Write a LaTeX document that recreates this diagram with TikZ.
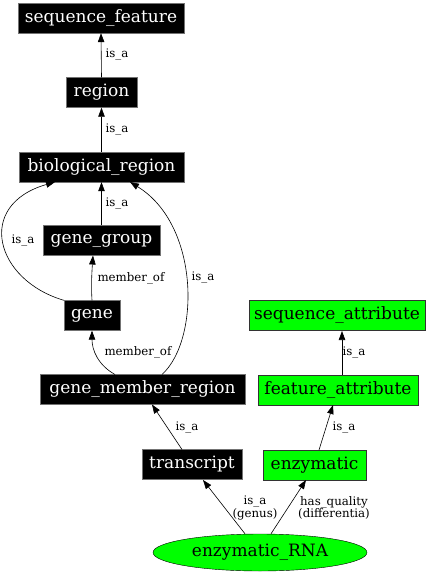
\documentclass[tikz,border=0pt]{standalone}
\usepackage{fontspec}
\setmainfont{DejaVu Serif}
\usetikzlibrary{arrows.meta,shapes.geometric}
\definecolor{termgreen}{HTML}{00FF00}
\begin{document}
\begin{tikzpicture}[
        x=1pt, y=-1pt,
        term/.style={draw=black!55, fill=black, text=white, inner sep=0pt,
            minimum height=30pt, font=\fontsize{17}{19}\selectfont},
        attr/.style={draw=black!80, fill=termgreen, text=black, inner sep=0pt,
            minimum height=30pt, font=\fontsize{17}{19}\selectfont},
        lbl/.style={inner sep=0pt, align=center, font=\fontsize{11.8}{12.5}\selectfont},
        rel/.style={-{Triangle[length=9pt,width=6.5pt]}, black, line width=0.6pt}
    ]
    \useasboundingbox (0,0) rectangle (434,576);

    % terms
    \node[term, minimum width=166pt] (seqfeat) at (101,18) {sequence\_feature};
    \node[term, minimum width=71pt] (region) at (101.5,92.5) {region};
    \node[term, minimum width=165pt] (bioregion) at (101.5,167) {biological\_region};
    \node[term, minimum width=117pt] (genegroup) at (101.5,240.5) {gene\_group};
    \node[term, minimum width=56pt] (gene) at (92,315.5) {gene};
    \node[term, minimum width=205pt] (gmregion) at (142.5,389.5) {gene\_member\_region};
    \node[term, minimum width=100pt] (transcript) at (192,464.5) {transcript};
    \node[attr, minimum width=176pt] (seqattr) at (337,315.5) {sequence\_attribute};
    \node[attr, minimum width=160pt] (featattr) at (338,390) {feature\_attribute};
    \node[attr, minimum width=103pt] (enzymatic) at (314.5,465) {enzymatic};
    \node[ellipse, draw=black, fill=termgreen, inner sep=0pt, minimum width=214pt,
        minimum height=37pt, font=\fontsize{17}{19}\selectfont] (enzRNA) at (260,552.5) {enzymatic\_RNA};

    % relations
    \draw[rel] (region.north) -- (seqfeat.south);
    \draw[rel] (bioregion.north) -- (region.south);
    \draw[rel] (genegroup.north) -- (bioregion.south);
    \draw[rel] (gene.north west) .. controls (-5,280) and (-25,205) .. (55,182);
    \draw[rel] (gene.north) .. controls (91,285) and (92,270) .. (93,255.5);
    \draw[rel] (115,374.5) .. controls (98,365) and (92,350) .. (gene.south);
    \draw[rel] (162,374.5) .. controls (200,340) and (200,225) .. (130,182);
    \draw[rel] (182,449.5) -- (152,404.5);
    \draw[rel] (enzRNA.north) ++(-15,0) -- (203,480);
    \draw[rel] (enzRNA.north) ++(11,0) -- (306,480);
    \draw[rel] (319,450) -- (333,405);
    \draw[rel] (featattr.north) ++(4,0) -- (342,331);

    % relation labels
    \node[lbl] (l1) at (117,55) {is\_a};
    \node[lbl] (l2) at (117,130) {is\_a};
    \node[lbl] (l3) at (117,204) {is\_a};
    \node[lbl] (l4) at (23,241) {is\_a};
    \node[lbl] (l5) at (131,278) {member\_of};
    \node[lbl] (l6) at (203,278) {is\_a};
    \node[lbl] (l7) at (138,352) {member\_of};
    \node[lbl] (l8) at (187,428) {is\_a};
    \node[lbl] (l9) at (255,508) {is\_a\\(genus)};
    \node[lbl] (l10) at (334,508) {has\_quality\\(differentia)};
    \node[lbl] (l11) at (344,428) {is\_a};
    \node[lbl] (l12) at (354,353) {is\_a};
\end{tikzpicture}
\end{document}
